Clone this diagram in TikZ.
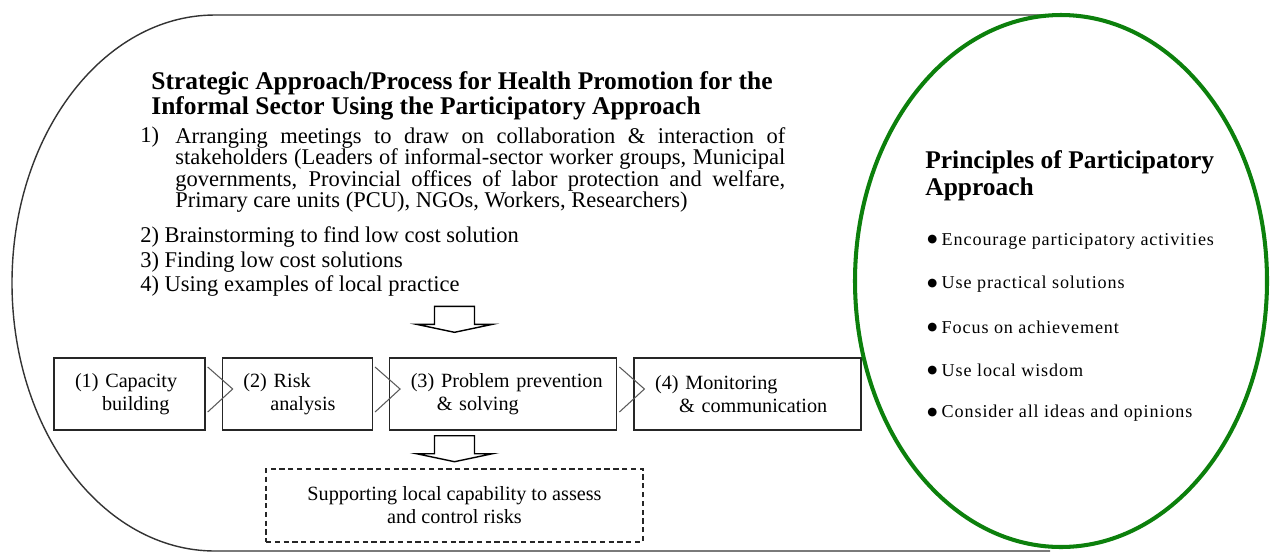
\documentclass[tikz,border=0pt]{standalone}
\usepackage{fontspec}
\setmainfont{Liberation Serif}
\newfontfamily\princfont[LetterSpace=5]{Liberation Serif}
\newfontfamily\dotfont{DejaVu Sans}
\usetikzlibrary{positioning}
\definecolor{ppgreen}{RGB}{12,128,12}
\tikzset{
  blockdown/.pic={
    \draw[line width=0.8pt, line join=miter] (-20,0) -- (20,0) -- (20,18) -- (38,18)
      -- (0,26) -- (-38,18) -- (-20,18) -- cycle;
  }
}
\begin{document}
\begin{tikzpicture}[x=0.02cm, y=-0.02cm,
    headtext/.style={font=\fontsize{14.5}{12.5}\selectfont\bfseries, align=left, inner sep=0pt},
    listtext/.style={font=\fontsize{12.8}{12.2}\selectfont, inner sep=0pt},
    stepbox/.style={draw=black!85, line width=0.8pt, minimum height=1.44cm, align=left,
      text width=#1, inner xsep=0.42cm, inner ysep=0pt,
      font=\fontsize{11.5}{13.4}\selectfont},
    resbox/.style={draw=black!85, line width=0.8pt, dash pattern=on 3pt off 2pt,
      minimum width=7.54cm, minimum height=1.46cm, align=center,
      font=\fontsize{11.5}{13.1}\selectfont},
    chevron/.style={draw=black!65, line width=0.6pt},
    princtext/.style={font=\princfont\fontsize{10.3}{12}\selectfont, anchor=west, inner sep=0pt}]
  \useasboundingbox (0,0) rectangle (1271,552);
  % outer frame of the process part
  \draw[black!80, line width=0.8pt] (1050,15) -- (215,15)
    arc[start angle=270, end angle=90, x radius=203, y radius=268] -- (1050,551);

  % strategy text
  \node[headtext, anchor=north west] (title) at (151,71)
    {Strategic Approach/Process for Health Promotion for the\\
     Informal Sector Using the Participatory Approach};
  \node[listtext, anchor=north west] (num1) at (140,127) {1)};
  \node[listtext, anchor=north west, text width=12.2cm, align=justify] (item1) at (175,127)
    {Arranging meetings to draw on collaboration \& interaction of\linebreak
     stakeholders (Leaders of informal-sector worker groups, Municipal\linebreak
     governments, Provincial offices of labor protection and welfare,\linebreak
     Primary care units (PCU), NGOs, Workers, Researchers)};
  \node[listtext, anchor=base west] (item2) at (140,242) {2) Brainstorming to find low cost solution};
  \node[listtext, anchor=base west] (item3) at (140,267) {3) Finding low cost solutions};
  \node[listtext, anchor=base west] (item4) at (140,291) {4) Using examples of local practice};

  % steps
  \node[stepbox=2.18cm] (b1) at (129.5,394) {(1) Capacity\\\hspace*{0.54cm}building};
  \node[stepbox=2.16cm, right=0.32cm of b1] (b2) {(2) Risk\\\hspace*{0.54cm}analysis};
  \node[stepbox=3.7cm, right=0.32cm of b2] (b3)
    {\mbox{(3) Problem prevention}\\\hspace*{0.52cm}\& solving};
  \node[stepbox=3.7cm, right=0.32cm of b3] (b4)
    {(4) Monitoring\\\hspace*{0.48cm}\mbox{\& communication}};
  \foreach \a/\b in {b1/b2, b2/b3, b3/b4}
    \draw[chevron] ([shift={(2,-27)}]\a.east) -- ([shift={(11,-5)}]\b.west)
      -- ([shift={(2,18)}]\a.east);

  \node[resbox] (res) at (454.5,505.5)
    {Supporting local capability to assess\\and control risks};
  \path (res.north |- b1.north) ++(0,-51) pic {blockdown};
  \path (res.north |- b3.south) ++(0,5) pic {blockdown};

  % principles
  \draw[ppgreen, line width=2.3pt] (1061,281) ellipse[x radius=206, y radius=266];
  \node[headtext, font=\fontsize{14.5}{15.2}\selectfont\bfseries, anchor=north west] (princ)
    at (925,150) {Principles of Participatory\\Approach};
  \foreach \txt [count=\i] in {Encourage participatory activities, Use practical solutions,
      Focus on achievement, Use local wisdom, Consider all ideas and opinions}
    \node[princtext] (p\i) at (927,198+43*\i)
      {\raisebox{1.3pt}{\dotfont\fontsize{6.5}{8}\selectfont ●}\hspace{2.5pt}\txt};
\end{tikzpicture}
\end{document}
